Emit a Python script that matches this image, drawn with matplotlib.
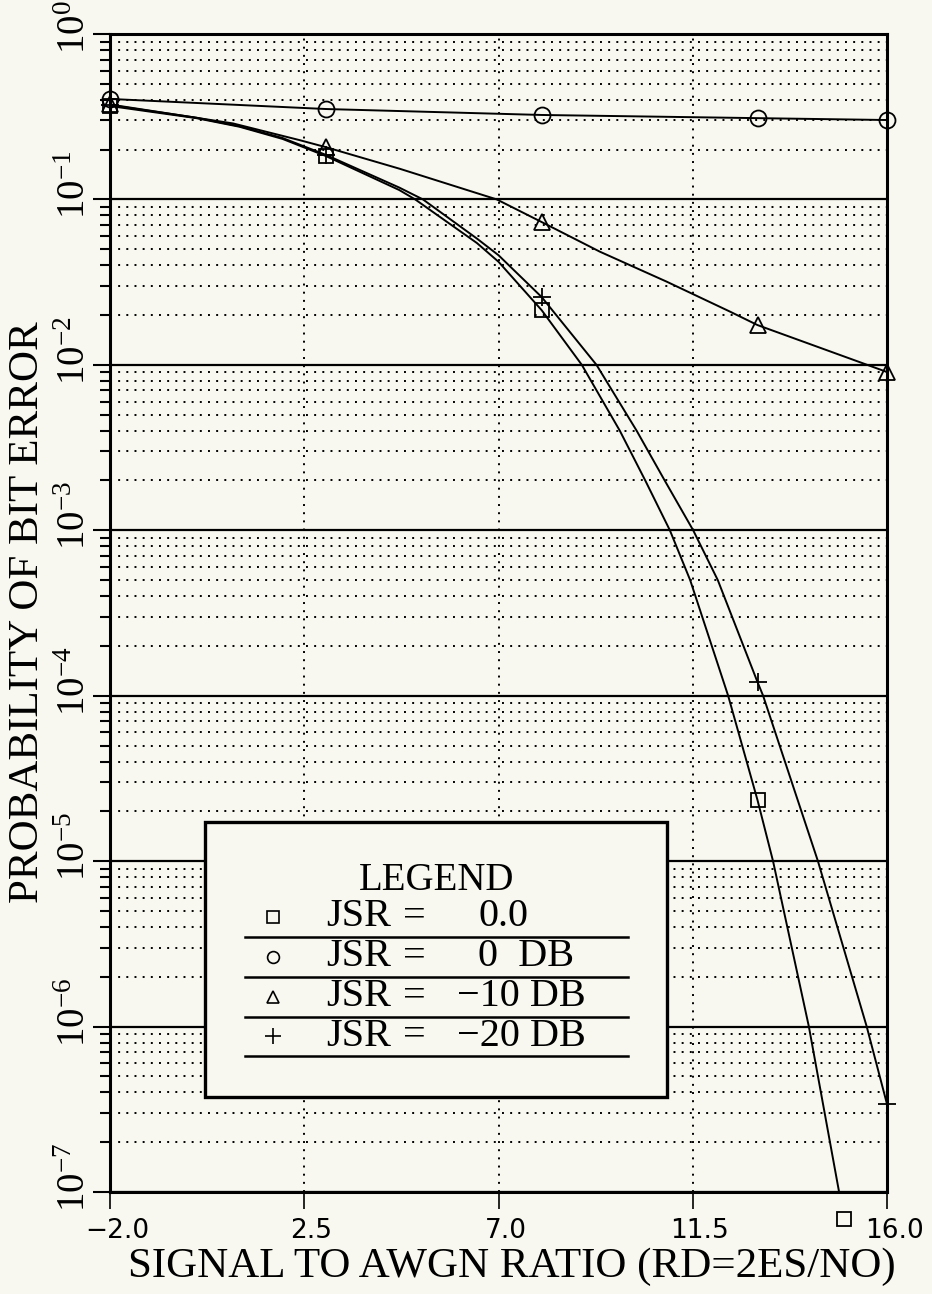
import matplotlib
matplotlib.use("Agg")
import matplotlib.pyplot as plt
import matplotlib.transforms as mtransforms
from matplotlib.patches import Rectangle
from matplotlib.lines import Line2D
from matplotlib.ticker import FixedLocator, NullFormatter

# ---------------- data ----------------
x_ticks = [-2.0, 2.5, 7.0, 11.5, 16.0]
x_tick_labels = ["\u22122.0", "2.5", "7.0", "11.5", "16.0"]
y_exponents = [0, -1, -2, -3, -4, -5, -6, -7]

# JSR = 0.0 (squares)
sq_curve_x = [-2, 0, 1, 2, 3, 4.7, 5.07, 6.5, 7, 8, 8.93, 9.81, 10.4, 10.97,
              11.44, 12.32, 13, 13.36, 14.19, 14.89]
sq_curve_y = [0.367, 0.31, 0.275, 0.232, 0.183, 0.114, 0.1, 0.0545, 0.042,
              0.0214, 1e-2, 4e-3, 2e-3, 1e-3, 5e-4, 1e-4, 2.34e-5, 1e-5,
              1e-6, 1e-7]
sq_mark_x = [-2, 3, 8, 13, 15]
sq_mark_y = [0.367, 0.183, 0.0214, 2.34e-5, 6.9e-8]

# JSR = 0 DB (circles)
ci_curve_x = [-2, 3, 8, 13, 16]
ci_curve_y = [0.405, 0.352, 0.324, 0.31, 0.302]
ci_mark_x = [-2, 3, 8, 13, 16]
ci_mark_y = [0.405, 0.352, 0.324, 0.31, 0.302]

# JSR = -10 DB (triangles)
tr_curve_x = [-2, 0.85, 2.4, 3, 4.72, 6.96, 8, 9.35, 10.9, 12.36, 13, 16]
tr_curve_y = [0.375, 0.288, 0.228, 0.207, 0.153, 0.1, 0.073, 0.0483, 0.0318,
              0.021, 0.0174, 0.00905]
tr_mark_x = [-2, 3, 8, 13, 16]
tr_mark_y = [0.375, 0.207, 0.073, 0.0174, 0.00905]

# JSR = -20 DB (plus)
pl_curve_x = [-2, 0, 1, 2, 3, 4.7, 5.25, 6.5, 7, 8, 9.27, 10.2, 10.85, 11.51,
              12.08, 13, 13.13, 14.4, 15.53, 16]
pl_curve_y = [0.372, 0.312, 0.277, 0.235, 0.186, 0.118, 0.1, 0.058, 0.046,
              0.0257, 1e-2, 4e-3, 2e-3, 1e-3, 5e-4, 1.21e-4, 1e-4, 1e-5,
              1e-6, 3.4e-7]
pl_mark_x = [-2, 3, 8, 13, 16]
pl_mark_y = [0.372, 0.186, 0.0257, 1.21e-4, 3.4e-7]

legend_title = "LEGEND"
legend_markers = ["s", "o", "^", "+"]
legend_values = ["0.0", "0  DB", "\u221210 DB", "\u221220 DB"]

xlabel = "SIGNAL TO AWGN RATIO (RD=2ES/NO)"
ylabel = "PROBABILITY OF BIT ERROR"

# ---------------- styling ----------------
BG = "#f8f8f0"
SERIF = ["Liberation Serif", "DejaVu Serif"]
plt.rcParams["mathtext.fontset"] = "custom"
plt.rcParams["mathtext.rm"] = "Liberation Serif"
plt.rcParams["mathtext.it"] = "Liberation Serif:italic"
plt.rcParams["mathtext.bf"] = "Liberation Serif:bold"

fig = plt.figure(figsize=(9.32, 12.94), dpi=100, facecolor=BG)
ax = fig.add_axes([110 / 932, 1 - 1192 / 1294, 777 / 932, 1158 / 1294])
ax.set_facecolor(BG)
ax.set_yscale("log")
ax.set_xlim(-2, 16)
ax.set_ylim(1e-7, 1)

# grid
dot = (0, (1.0, 3.2))
ax.yaxis.set_minor_locator(FixedLocator(
    [m * 10.0 ** e for e in range(-7, 0) for m in range(2, 10)]))
ax.yaxis.set_minor_formatter(NullFormatter())
ax.set_yticks([10.0 ** e for e in y_exponents])
ax.set_yticklabels([])
ax.grid(True, which="major", axis="y", color="black", lw=1.6, ls="-")
ax.grid(True, which="minor", axis="y", color="black", lw=1.4, ls=dot)
ax.set_xticks(x_ticks)
ax.set_xticklabels(x_tick_labels, fontsize=19, family="DejaVu Sans")
ax.grid(True, which="major", axis="x", color="black", lw=1.4, ls=dot)
ax.set_axisbelow(True)

ax.tick_params(axis="x", which="major", direction="out", length=12, width=1.2,
               pad=7)
ax.tick_params(axis="y", which="major", direction="out", length=12, width=1.5)
ax.tick_params(axis="y", which="minor", direction="out", length=7, width=1.5)
for s in ax.spines.values():
    s.set_linewidth(2.2)

# shift x tick labels slightly right
offs = mtransforms.ScaledTranslation(7 / 100, 0, fig.dpi_scale_trans)
for lab in ax.get_xticklabels():
    lab.set_transform(lab.get_transform() + offs)

# y tick labels (rotated, "10" centred a little below each decade)
ytrans = mtransforms.blended_transform_factory(ax.transAxes, ax.transData) + \
    mtransforms.ScaledTranslation(0, -20 / 100, fig.dpi_scale_trans)
for e in y_exponents:
    lab = r"$\mathregular{10^{%d}}$" % e if e == 0 else \
        r"$\mathregular{10^{-%d}}$" % (-e)
    ax.text(-25 / 777, 10.0 ** e, lab,
            rotation=90, rotation_mode="anchor", ha="left", va="baseline",
            fontsize=28, family="Liberation Serif", transform=ytrans,
            clip_on=False)

# curves
lw = 1.4
for cx, cy in [(ci_curve_x, ci_curve_y), (sq_curve_x, sq_curve_y),
               (tr_curve_x, tr_curve_y), (pl_curve_x, pl_curve_y)]:
    ax.plot(cx, cy, color="black", lw=lw, zorder=3)

mk = dict(color="black", ls="none", mfc="none", mew=1.3, clip_on=False, zorder=4)
ax.plot(sq_mark_x, sq_mark_y, marker="s", ms=10, **mk)
ax.plot(ci_mark_x, ci_mark_y, marker="o", ms=11.5, **mk)
ax.plot(tr_mark_x, tr_mark_y, marker="^", ms=11, **mk)
ax.plot(pl_mark_x, pl_mark_y, marker="+", ms=13, **mk)

# legend box (drawn manually)
def fx(px):
    return (px - 110) / 777

def fy(py):
    return (1192 - py) / 1158

ax.add_patch(Rectangle((fx(205), fy(1097)), fx(667) - fx(205), fy(822) - fy(1097),
                       transform=ax.transAxes, facecolor=BG, edgecolor="black",
                       lw=2.4, zorder=10))
ax.text(fx(437), fy(880), legend_title, transform=ax.transAxes, ha="center",
        va="center", fontsize=28, family=SERIF, zorder=11)
row_y = [917, 957, 997, 1036]
line_y = [937, 977, 1017, 1056]
msz = {"s": 8, "o": 8.5, "^": 8.5, "+": 11}
for m, v, ry, ly in zip(legend_markers, legend_values, row_y, line_y):
    ax.plot([fx(273)], [fy(ry)], marker=m, ms=msz[m], mfc="none", mec="black",
            mew=1.2, color="black", ls="none", transform=ax.transAxes, zorder=11)
    ax.text(fx(326), fy(ry), "JSR", transform=ax.transAxes, ha="left",
            va="center", fontsize=29, family=SERIF, zorder=11)
    ax.text(fx(414), fy(ry), "=", transform=ax.transAxes, ha="center",
            va="center", fontsize=29, family=SERIF, zorder=11)
    vx = 457 if v.startswith("\u2212") else 478
    ax.text(fx(vx), fy(ry), v, transform=ax.transAxes, ha="left",
            va="center", fontsize=29, family=SERIF, zorder=11)
    ax.add_line(Line2D([fx(245), fx(628)], [fy(ly), fy(ly)], color="black",
                       lw=1.8, transform=ax.transAxes, zorder=11))

# axis labels
fig.text(512 / 932, 1 - 1267 / 1294, xlabel, ha="center", va="center",
         fontsize=31, family=SERIF)
fig.text(28 / 932, 1 - 612 / 1294, ylabel, ha="center", va="center",
         rotation=90, fontsize=31, family=SERIF)

fig.savefig("out.png", dpi=100, facecolor=BG)
